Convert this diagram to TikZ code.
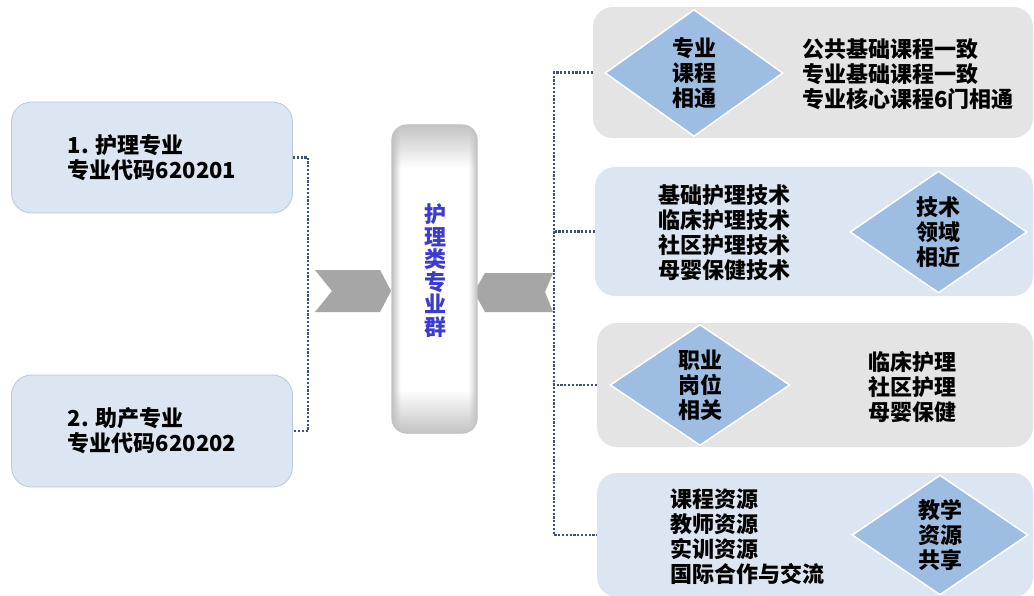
\documentclass[tikz,border=0pt]{standalone}
\usepackage{fontspec}
\setmainfont{Noto Sans CJK SC}
\usetikzlibrary{shapes.geometric,fadings}
\definecolor{lbfill}{HTML}{DCE6F2}
\definecolor{lbdraw}{HTML}{B9C9DB}
\definecolor{gpanel}{HTML}{E4E4E4}
\definecolor{dia}{HTML}{9DBDE2}
\definecolor{dotc}{HTML}{3E5270}
\definecolor{chev}{HTML}{A6A6A6}
\definecolor{ttl}{HTML}{3B3BD0}
\definecolor{colgray}{HTML}{C2C2C2}
\pgfdeclarehorizontalshading{colshade}{100bp}{color(0bp)=(colgray); color(25bp)=(colgray); color(30bp)=(white); color(70bp)=(white); color(75bp)=(colgray); color(100bp)=(colgray)}
\pgfdeclareverticalshading{vfadeshade}{100bp}{color(0bp)=(white); color(25bp)=(white); color(32bp)=(black); color(68bp)=(black); color(75bp)=(white); color(100bp)=(white)}
\pgfdeclarefading{vfade}{\pgfuseshading{vfadeshade}}
\begin{document}
\begin{tikzpicture}[x=1pt,y=-1pt,
 txt/.style={font=\bfseries\fontsize{22}{25}\selectfont, align=left, inner sep=0pt},
 leftbox/.style={draw=lbdraw, fill=lbfill, rounded corners=20pt, minimum width=281pt, minimum height=111pt, line width=0.8pt, txt},
 panelg/.style={fill=gpanel, rounded corners=20pt, inner sep=0pt},
 panelb/.style={fill=lbfill, rounded corners=20pt, inner sep=0pt},
 dmd/.style={diamond, fill=dia, draw=white, line width=1.5pt, inner sep=0pt, txt, align=center},
 dots/.style={draw=dotc, line width=2.8pt, dash pattern=on 2.2pt off 1.6pt},
 chevs/.style={fill=chev},
]
\useasboundingbox[fill=white] (0,0) rectangle (1034,595);

% left boxes
\node[leftbox] (b1) at (152,157.5) {1. 护理专业\\专业代码620201};
\node[leftbox, minimum height=112pt] (b2) at (152,431) {2. 助产专业\\专业代码620202};

% right panels
\node[panelg, minimum width=440pt, minimum height=131pt] (p1) at (813,72.5) {};
\node[panelb, minimum width=438pt, minimum height=129pt] (p2) at (814,231.5) {};
\node[panelg, minimum width=436pt, minimum height=124pt] (p3) at (815,385) {};
\node[panelb, minimum width=436pt, minimum height=124pt] (p4) at (815,535) {};

% diamonds
\node[dmd, minimum width=178pt, minimum height=127pt] (d1) at (694,73) {专业\\课程\\相通};
\node[dmd, minimum width=177pt, minimum height=122pt] (d2) at (938.5,232) {技术\\领域\\相近};
\node[dmd, minimum width=180pt, minimum height=121pt] (d3) at (700,385) {职业\\岗位\\相关};
\node[dmd, minimum width=176pt, minimum height=120pt] (d4) at (940,535) {教学\\资源\\共享};

% panel texts
\node[txt, anchor=west] (t1) at (802,74) {公共基础课程一致\\专业基础课程一致\\专业核心课程6门相通};
\node[txt, anchor=west] (t2) at (658,233) {基础护理技术\\临床护理技术\\社区护理技术\\母婴保健技术};
\node[txt, anchor=west] (t3) at (868,387) {临床护理\\社区护理\\母婴保健};
\node[txt, anchor=west] (t4) at (670,536.5) {课程资源\\教师资源\\实训资源\\国际合作与交流};

% connectors
\coordinate (lsp) at (308,300);
\draw[dots] (b1.east) -| (lsp) |- (b2.east);
\coordinate (sp) at (554,300);
\draw[dots] (p1.west) -| (sp) |- (p4.west);
\draw[dots] (p2.west) -- (p2.west -| sp);
\draw[dots] (p3.west) -- (p3.west -| sp);

% chevrons
\fill[chevs] (315,270) -- (380,270) -- (391,291) -- (380,312) -- (315,312) -- (332,291) -- cycle;
\fill[chevs] (485,273) -- (553,273) -- (545,292) -- (553,312) -- (485,312) -- (474,292) -- cycle;

% center column
\node[rounded corners=15pt, minimum width=85pt, minimum height=308pt, shading=colshade] (cc) at (434.5,279) {};
\fill[colgray, path fading=vfade, rounded corners=15pt] (cc.north west) rectangle (cc.south east);
\draw[colgray, line width=0.8pt, rounded corners=15pt] (cc.north west) rectangle (cc.south east);
\node[font=\bfseries\fontsize{22}{22.5}\selectfont, text=ttl, align=center, inner sep=0pt] (title) at (435,270.5) {护\\理\\类\\专\\业\\群};
\end{tikzpicture}
\end{document}
